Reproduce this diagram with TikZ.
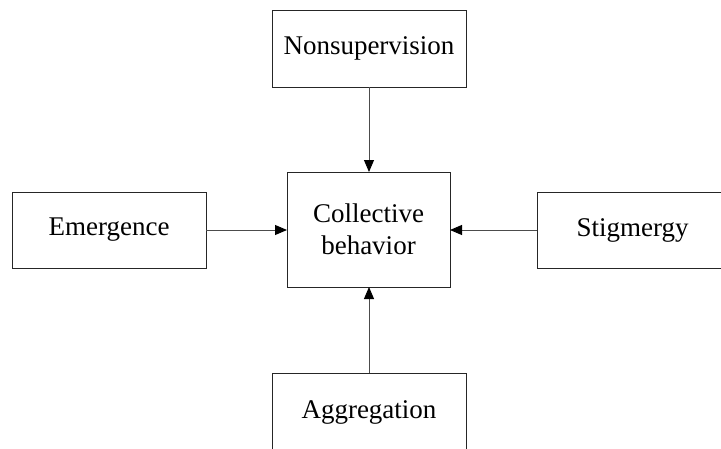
\documentclass[tikz,border=0pt]{standalone}
\usepackage{fontspec}
\setmainfont{Liberation Serif}
\usetikzlibrary{arrows.meta}
\begin{document}
\begin{tikzpicture}[x=1pt,y=-1pt,
  box/.style={draw=black!85, line width=0.9pt, inner sep=0pt, outer sep=0pt,
    font=\fontsize{27}{32}\selectfont, align=center},
  conn/.style={draw=black!70, line width=0.9pt, -{Triangle[length=12pt,width=10pt,fill=black,color=black]}}]
\useasboundingbox (0,0) rectangle (721,448);
\node[box, minimum width=194pt, minimum height=77pt] (non) at (369,48.5) {Nonsupervision};
\node[box, minimum width=163pt, minimum height=115pt] (coll) at (368.5,229.5) {Collective\\behavior};
\node[box, minimum width=194pt, minimum height=76pt] (eme) at (109,230) {Emergence};
\node[box, minimum width=191pt, minimum height=76pt] (sti) at (632.5,230) {Stigmergy};
\node[box, minimum width=194pt, minimum height=78pt] (agg) at (369,412) {Aggregation};
\draw[conn] (non.south) -- (non.south |- coll.north);
\draw[conn] (eme.east) -- (eme.east -| coll.west);
\draw[conn] (sti.west) -- (sti.west -| coll.east);
\draw[conn] (agg.north) -- (agg.north |- coll.south);
\end{tikzpicture}
\end{document}
